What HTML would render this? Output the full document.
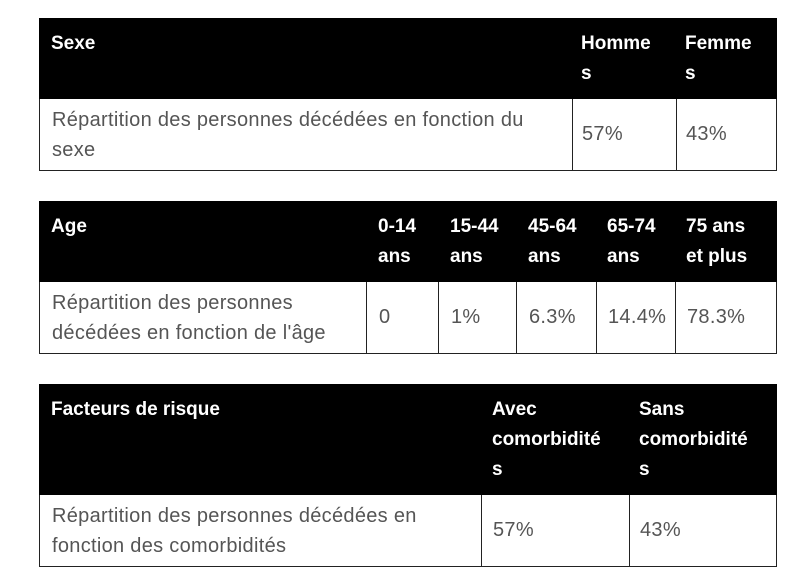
<!DOCTYPE html>
<html><head><meta charset="utf-8"><style>
body{margin:0;width:800px;height:584px;background:#fff;position:relative;font-family:"Liberation Sans",sans-serif;overflow:hidden}
.h{position:absolute;background:#000;color:#fff;font-weight:bold;font-size:19px;line-height:30px}
.h div,.b div{position:absolute;white-space:nowrap}
.b{position:absolute;border:1px solid #222;border-top:none;box-sizing:border-box;color:#555;font-size:20px;letter-spacing:0.3px;line-height:30px}
.v{position:absolute;top:0;bottom:0;width:1px;background:#222}
</style></head><body>

<div class="h" style="left:39px;top:18px;width:738px;height:81px">
<div style="left:12px;top:11px">Sexe</div>
<div style="left:542px;top:11px">Homme<br>s</div>
<div style="left:646px;top:11px">Femme<br>s</div>
</div>
<div class="b" style="left:39px;top:99px;width:738px;height:72px">
<div style="left:12px;top:6px">Répartition des personnes décédées en fonction du<br>sexe</div>
<span class="v" style="left:532px"></span><span class="v" style="left:636px"></span>
<div style="left:542px;top:20px">57%</div>
<div style="left:646px;top:20px">43%</div>
</div>

<div class="h" style="left:39px;top:201px;width:738px;height:81px">
<div style="left:12px;top:11px">Age</div>
<div style="left:339px;top:11px">0-14<br>ans</div>
<div style="left:411px;top:11px">15-44<br>ans</div>
<div style="left:489px;top:11px">45-64<br>ans</div>
<div style="left:568px;top:11px">65-74<br>ans</div>
<div style="left:647px;top:11px">75 ans<br>et plus</div>
</div>
<div class="b" style="left:39px;top:282px;width:738px;height:72px">
<div style="left:12px;top:6px">Répartition des personnes<br>décédées en fonction de l'âge</div>
<span class="v" style="left:326px"></span><span class="v" style="left:398px"></span><span class="v" style="left:476px"></span><span class="v" style="left:556px"></span><span class="v" style="left:635px"></span>
<div style="left:339px;top:20px">0</div>
<div style="left:411px;top:20px">1%</div>
<div style="left:489px;top:20px">6.3%</div>
<div style="left:568px;top:20px">14.4%</div>
<div style="left:647px;top:20px">78.3%</div>
</div>

<div class="h" style="left:39px;top:384px;width:738px;height:111px">
<div style="left:12px;top:11px">Facteurs de risque</div>
<div style="left:453px;top:11px">Avec<br>comorbidité<br>s</div>
<div style="left:600px;top:11px">Sans<br>comorbidité<br>s</div>
</div>
<div class="b" style="left:39px;top:495px;width:738px;height:72px">
<div style="left:12px;top:6px">Répartition des personnes décédées en<br>fonction des comorbidités</div>
<span class="v" style="left:441px"></span><span class="v" style="left:589px"></span>
<div style="left:453px;top:20px">57%</div>
<div style="left:600px;top:20px">43%</div>
</div>
</body></html>
